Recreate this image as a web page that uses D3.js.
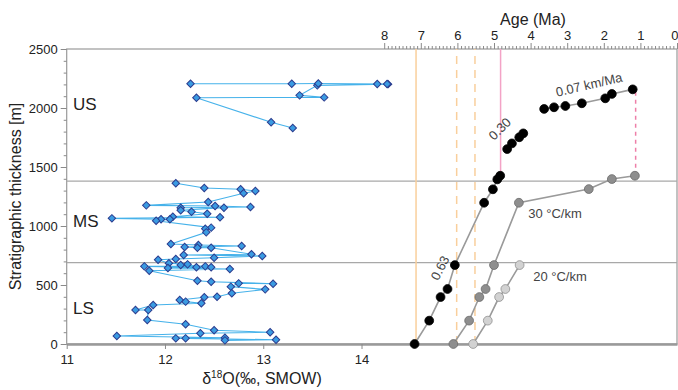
<!DOCTYPE html>
<html>
<head>
<meta charset="utf-8">
<script src="https://cdn.jsdelivr.net/npm/d3@7"></script>
<style>
	body { margin: 0; background: #fff; }
	text { font-family: "Liberation Sans", Arial, sans-serif; fill: #222; }
</style>
</head>
<body>
<div id="chart"></div>
<script>
// δ18O record, lower section (LS + MS), in stratigraphic order
const lowerD18O = [12.11, 12.40, 12.77, 12.92, 12.80, 12.44, 11.81, 12.51, 12.87, 12.16, 12.60, 12.16, 12.27, 12.43,
	12.08, 12.56, 11.46, 11.96, 12.05, 11.91, 12.47, 12.41, 12.42, 12.06, 12.34, 12.78, 12.20, 12.33, 12.47,
	12.88, 12.19, 12.99, 12.50, 12.11, 11.93, 12.04, 12.23, 12.16, 12.41, 11.79, 12.32, 12.47, 12.03, 12.66,
	11.84, 12.33, 12.47, 13.10, 12.75, 12.67, 13.02, 12.68, 12.53, 12.40, 12.15, 12.21, 12.37, 11.88, 11.70,
	11.83, 11.82, 12.21, 12.50, 13.07, 12.36, 11.51, 12.61, 12.11, 12.21, 13.13, 12.61]
const lowerHeight = [1362, 1322, 1311, 1297, 1277, 1203, 1175, 1169, 1161, 1155, 1155, 1133, 1121, 1104,
	1079, 1074, 1065, 1057, 1057, 1045, 986, 977, 946, 847, 839, 830, 822, 816, 816,
	760, 754, 746, 731, 720, 714, 684, 675, 669, 658, 658, 650, 650, 644, 636,
	621, 536, 528, 511, 514, 486, 463, 430, 401, 396, 373, 359, 345, 331, 288,
	288, 203, 167, 116, 99, 91, 68, 53, 48, 48, 36, 31]

// δ18O record, upper section (US)
const upperD18O = [13.30, 13.08, 12.32, 13.62, 13.37, 13.55, 14.27, 14.16, 14.26, 13.56, 13.29, 12.26]
const upperHeight = [1831, 1879, 2087, 2090, 2107, 2192, 2202, 2203, 2204, 2208, 2206, 2206]

// magnetostratigraphic ages
const blackAge = [7.17, 6.77, 6.46, 6.27, 6.07, 5.27, 5.03, 4.91, 4.83]
const blackHeight = [0, 198, 398, 466, 669, 1197, 1311, 1395, 1426]
const midAge = [4.64, 4.51, 4.31, 4.20]
const midHeight = [1652, 1700, 1752, 1785]
const topAge = [3.63, 3.36, 3.05, 2.60, 1.96, 1.78, 1.21]
const topHeight = [1992, 2006, 2017, 2040, 2082, 2119, 2158]

// thermal model ages
const grad30Age = [6.11, 5.68, 5.40, 5.23, 5.00, 4.32, 2.41, 1.78, 1.15]
const grad30Height = [0, 198, 398, 466, 669, 1197, 1313, 1398, 1426]
const grad20Age = [5.57, 5.17, 4.86, 4.69, 4.30]
const grad20Height = [0, 198, 398, 466, 669]

const unitBounds = [690, 1380]
const unitNames = ['LS', 'MS', 'US']
const unitLabelHeight = [305, 1045, 2030]

const leftTicks = [0, 500, 1000, 1500, 2000, 2500]
const bottomTicks = [11, 12, 13, 14]
const ageTicks = [0, 1, 2, 3, 4, 5, 6, 7, 8]

const width = 678
const height = 390
const plot = {left: 66.7, right: 677, top: 49, bottom: 344}

const x = d3.scaleLinear().domain([11, 17.21]).range([plot.left, plot.right])
const age = d3.scaleLinear().domain([0, 8]).range([plot.right, 384.2])
const y = d3.scaleLinear().domain([0, 2500]).range([plot.bottom, plot.top])

const $svg = d3.select('#chart')
	.append('svg')
	.attr('width', width)
	.attr('height', height)

// frame
$svg.append('rect')
	.attr('x', plot.left)
	.attr('y', plot.top)
	.attr('width', plot.right - plot.left)
	.attr('height', plot.bottom - plot.top)
	.attr('fill', 'none')
	.attr('stroke', '#9a9a9a')
	.attr('stroke-width', 1.2)

// unit boundaries
$svg.selectAll('.bound')
	.data(unitBounds)
	.join('line')
	.attr('x1', plot.left).attr('x2', plot.right)
	.attr('y1', d => y(d)).attr('y2', d => y(d))
	.attr('stroke', '#a8a8a8')
	.attr('stroke-width', 1.2)

// age reference lines
const vline = (a, h0, h1, color, dash) => $svg.append('line')
	.attr('x1', age(a)).attr('x2', age(a))
	.attr('y1', y(h0)).attr('y2', y(h1))
	.attr('stroke', color)
	.attr('stroke-width', 1.5)
	.attr('stroke-dasharray', dash)

vline(7.13, 0, 2500, '#f9cf9c', null)
vline(6.02, 0, 2500, '#f9cf9c', '8,6')
vline(5.52, 0, 2500, '#f9cf9c', '8,6')
vline(4.82, 1426, 2500, '#f3a3c6', null)
vline(1.13, 1426, 2158, '#ee7fa8', '4,4')

// left axis
const $left = $svg.append('g')
	.attr('transform', `translate(${plot.left},0)`)
$left.call(d3.axisLeft(y).tickValues(d3.range(0, 2501, 100)).tickFormat('').tickSize(3))
$left.call(g => g.selectAll('.tick')
	.filter(d => leftTicks.includes(d))
	.select('line').attr('x2', -6))
$left.selectAll('.tick')
	.filter(d => leftTicks.includes(d))
	.append('text')
	.attr('x', -9)
	.attr('dy', '0.35em')
	.attr('text-anchor', 'end')
	.style('font-size', '13px')
	.text(d => d)
$left.select('.domain').remove()
$left.selectAll('line').attr('stroke', '#8a8a8a')

// bottom axis
const $bottom = $svg.append('g')
	.attr('transform', `translate(0,${plot.bottom})`)
	.call(d3.axisBottom(x).tickValues(bottomTicks).tickFormat(d3.format('d')).tickSize(5).tickSizeOuter(0))
$bottom.selectAll('text').style('font-size', '13px').attr('dy', '0.9em')
$bottom.selectAll('line').attr('stroke', '#8a8a8a')
$bottom.select('.domain').attr('stroke', '#9a9a9a').attr('stroke-width', 2.5)

// top axis (age)
const $top = $svg.append('g')
	.attr('transform', `translate(0,${plot.top})`)
	.call(d3.axisTop(age).tickValues(d3.range(0, 80.5, 1).map(d => d / 10)).tickFormat('').tickSize(3).tickSizeOuter(0))
$top.select('.domain').remove()
$top.selectAll('.tick')
	.filter(d => ageTicks.includes(Math.round(d * 10) / 10))
	.select('line').attr('y2', -6)
$top.selectAll('.tick')
	.filter(d => ageTicks.includes(Math.round(d * 10) / 10))
	.append('text')
	.attr('y', -9)
	.attr('text-anchor', d => d === 0 ? 'end' : 'middle')
	.attr('x', d => d === 0 ? 1 : 0)
	.style('font-size', '13px')
	.text(d => Math.round(d))
$top.selectAll('line').attr('stroke', '#8a8a8a')

// axis titles
$svg.append('text')
	.attr('transform', `translate(21,${(plot.top + plot.bottom) / 2}) rotate(-90)`)
	.attr('text-anchor', 'middle')
	.style('font-size', '16px')
	.text('Stratigraphic thickness [m]')

const $xTitle = $svg.append('text')
	.attr('x', 262)
	.attr('y', 384)
	.attr('text-anchor', 'middle')
	.style('font-size', '16px')
$xTitle.append('tspan').text('δ')
$xTitle.append('tspan').attr('dy', -6).style('font-size', '10px').text('18')
$xTitle.append('tspan').attr('dy', 6).text('O(‰, SMOW)')

$svg.append('text')
	.attr('x', 533)
	.attr('y', 25)
	.attr('text-anchor', 'middle')
	.style('font-size', '16px')
	.text('Age (Ma)')

// unit labels
$svg.selectAll('.unit')
	.data(unitNames)
	.join('text')
	.attr('x', 73)
	.attr('y', (d, i) => y(unitLabelHeight[i]))
	.attr('dy', '0.35em')
	.style('font-size', '17px')
	.text(d => d)

// δ18O series
const zipPts = (xs, ys) => xs.map((v, i) => [v, ys[i]])
const blueLine = d3.line().x(d => x(d[0])).y(d => y(d[1]))
const diamond = d3.symbol(d3.symbolSquare, 28)

const drawBlue = pts => {
	$svg.append('path')
		.attr('d', blueLine(pts))
		.attr('fill', 'none')
		.attr('stroke', '#46b2ea')
		.attr('stroke-width', 1.1)
	$svg.append('g')
		.selectAll('path')
		.data(pts)
		.join('path')
		.attr('d', diamond)
		.attr('transform', d => `translate(${x(d[0])},${y(d[1])}) rotate(45)`)
		.attr('fill', '#3a9be2')
		.attr('stroke', '#2b3c8e')
		.attr('stroke-width', 1)
}
drawBlue(zipPts(lowerD18O, lowerHeight))
drawBlue(zipPts(upperD18O, upperHeight))

// age series
const ageLine = d3.line().x(d => age(d[0])).y(d => y(d[1]))

const drawAge = (pts, fill, stroke, withLine) => {
	if (withLine) {
		$svg.append('path')
			.attr('d', ageLine(pts))
			.attr('fill', 'none')
			.attr('stroke', '#9a9a9a')
			.attr('stroke-width', 1.6)
	}
	$svg.append('g')
		.selectAll('circle')
		.data(pts)
		.join('circle')
		.attr('cx', d => age(d[0]))
		.attr('cy', d => y(d[1]))
		.attr('r', 4.4)
		.attr('fill', fill)
		.attr('stroke', stroke)
		.attr('stroke-width', 0.8)
}
drawAge(zipPts(grad20Age, grad20Height), '#d2d2d2', '#8f8f8f', true)
drawAge(zipPts(grad30Age, grad30Height), '#8e8e8e', '#6a6a6a', true)
drawAge(zipPts(blackAge, blackHeight), '#000', '#000', true)
drawAge(zipPts(midAge, midHeight), '#000', '#000', false)
drawAge(zipPts(topAge, topHeight), '#000', '#000', true)

// rate / gradient labels
const note = (txt, px, py, rot) => $svg.append('text')
	.attr('transform', `translate(${px},${py}) rotate(${rot})`)
	.attr('text-anchor', 'middle')
	.style('font-size', '13px')
	.style('fill', '#444')
	.text(txt)

note('0.07 km/Ma', 590, 89, -13)
note('0.30', 503, 132, -45)
note('0.63', 444, 270, -63)
note('30 °C/km', 555, 218, 0)
note('20 °C/km', 560, 281, 0)
</script>
</body>
</html>
